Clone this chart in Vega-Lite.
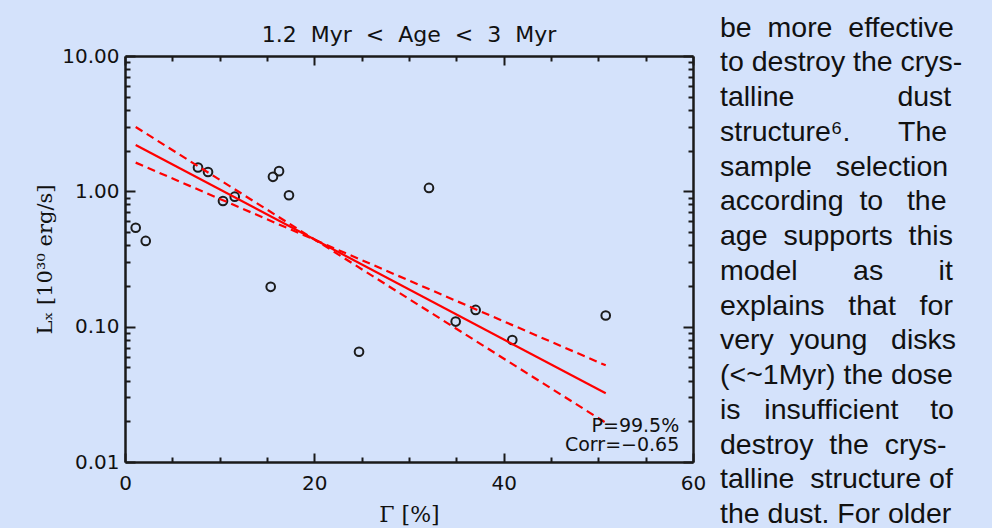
{
  "$schema": "https://vega.github.io/schema/vega-lite/v6.json",
  "background": "#d4e2fb",
  "padding": {"left": 34, "top": 13, "right": 22, "bottom": 0},
  "config": {"view": {"stroke": null}, "font": "DejaVu Sans"},
  "bounds": "flush",
  "spacing": 27,
  "datasets": {
    "points": [
      {"gamma": 1.13, "lx": 0.538}, {"gamma": 2.19, "lx": 0.43}, {"gamma": 7.71, "lx": 1.5},
      {"gamma": 8.77, "lx": 1.39}, {"gamma": 10.35, "lx": 0.848}, {"gamma": 11.59, "lx": 0.913},
      {"gamma": 15.63, "lx": 1.28}, {"gamma": 16.27, "lx": 1.41}, {"gamma": 17.32, "lx": 0.935},
      {"gamma": 15.39, "lx": 0.197}, {"gamma": 32.11, "lx": 1.06}, {"gamma": 24.72, "lx": 0.0653},
      {"gamma": 34.93, "lx": 0.109}, {"gamma": 37.04, "lx": 0.133}, {"gamma": 40.91, "lx": 0.0797},
      {"gamma": 50.78, "lx": 0.121}
    ],
    "fit": [
      {"gamma": 1.13, "lx": 2.2}, {"gamma": 50.78, "lx": 0.0322}
    ],
    "band": [
      {"series": "steep", "gamma": 1.13, "lx": 2.99}, {"series": "steep", "gamma": 50.78, "lx": 0.0195},
      {"series": "shallow", "gamma": 1.13, "lx": 1.63}, {"series": "shallow", "gamma": 50.78, "lx": 0.0518}
    ],
    "notes": [
      {"gamma": 58.55, "lx": 0.01849, "label": "P=99.5%"},
      {"gamma": 58.55, "lx": 0.01336, "label": "Corr=−0.65"}
    ],
    "column": [
      {"col": 0, "line": 1, "text": "be\u00a0\u00a0more\u00a0\u00a0effective"},
      {"col": 0, "line": 2, "text": "to destroy the crys-"},
      {"col": 0, "line": 3, "text": "talline\u00a0\u00a0\u00a0\u00a0\u00a0\u00a0\u00a0\u00a0\u00a0\u00a0\u00a0\u00a0\u00a0dust"},
      {"col": 0, "line": 4, "text": "structure⁶.\u00a0\u00a0\u00a0\u00a0\u00a0\u00a0The"},
      {"col": 0, "line": 5, "text": "sample\u00a0\u00a0\u00a0selection"},
      {"col": 0, "line": 6, "text": "according\u00a0\u00a0to\u00a0\u00a0\u00a0the"},
      {"col": 0, "line": 7, "text": "age\u00a0\u00a0supports\u00a0\u00a0this"},
      {"col": 0, "line": 8, "text": "model\u00a0\u00a0\u00a0\u00a0\u00a0\u00a0\u00a0as\u00a0\u00a0\u00a0\u00a0\u00a0\u00a0\u00a0it"},
      {"col": 0, "line": 9, "text": "explains\u00a0\u00a0\u00a0that\u00a0\u00a0\u00a0for"},
      {"col": 0, "line": 10, "text": "very\u00a0\u00a0young\u00a0\u00a0\u00a0disks"},
      {"col": 0, "line": 11, "text": "(<~1Myr) the dose"},
      {"col": 0, "line": 12, "text": "is\u00a0\u00a0\u00a0insufficient\u00a0\u00a0\u00a0\u00a0to"},
      {"col": 0, "line": 13, "text": "destroy\u00a0\u00a0the\u00a0\u00a0crys-"},
      {"col": 0, "line": 14, "text": "talline\u00a0\u00a0structure of"},
      {"col": 0, "line": 15, "text": "the dust. For older"}
    ]
  },
  "hconcat": [
    {
      "width": 568,
      "height": 406,
      "title": {
        "text": "1.2\u00a0\u00a0Myr\u00a0\u00a0<\u00a0\u00a0Age\u00a0\u00a0<\u00a0\u00a03\u00a0\u00a0Myr",
        "font": "DejaVu Sans", "fontSize": 22, "fontWeight": "normal", "color": "#111",
        "anchor": "middle", "frame": "group", "offset": -1
      },
      "layer": [
        {
          "data": {"name": "points"},
          "mark": {"type": "point", "shape": "circle", "filled": false, "size": 75, "strokeWidth": 2, "color": "#1c1c1c", "opacity": 1},
          "encoding": {
            "x": {
              "field": "gamma", "type": "quantitative",
              "scale": {"domain": [0, 60], "nice": false, "zero": false},
              "axis": {
                "orient": "bottom",
                "values": [0, 5, 10, 15, 20, 25, 30, 35, 40, 45, 50, 55, 60],
                "tickSize": {"condition": {"test": "indexof([0,20,40,60], datum.value) >= 0", "value": -9}, "value": -5},
                "labelExpr": "indexof([0,20,40,60], datum.value) >= 0 ? format(datum.value, 'd') : ''",
                "labelFont": "DejaVu Sans", "labelFontSize": 20, "labelColor": "#111",
                "labelPadding": 20, "labelOverlap": false, "labelFlush": false,
                "domainColor": "#1a1a1a", "domainWidth": 2.5, "tickColor": "#1a1a1a", "tickWidth": 2,
                "title": "Γ [%]", "titleFont": "DejaVu Serif", "titleFontSize": 22, "titleFontWeight": "normal",
                "titleColor": "#111", "titlePadding": 7, "grid": false
              }
            },
            "y": {
              "field": "lx", "type": "quantitative",
              "scale": {"type": "log", "domain": [0.01, 10], "nice": false},
              "axis": {
                "orient": "left",
                "values": [0.01, 0.02, 0.03, 0.04, 0.05, 0.06, 0.07, 0.08, 0.09, 0.1, 0.2, 0.3, 0.4, 0.5, 0.6, 0.7, 0.8, 0.9, 1, 2, 3, 4, 5, 6, 7, 8, 9, 10],
                "tickSize": {"condition": {"test": "indexof([0.01,0.1,1,10], datum.value) >= 0", "value": -10}, "value": -5},
                "labelExpr": "indexof([0.01,0.1,1,10], datum.value) >= 0 ? format(datum.value, '.2f') : ''",
                "labelFont": "DejaVu Sans", "labelFontSize": 20, "labelColor": "#111",
                "labelPadding": 16, "labelOverlap": false, "labelFlush": false,
                "domainColor": "#1a1a1a", "domainWidth": 2.5, "tickColor": "#1a1a1a", "tickWidth": 2,
                "title": "Lₓ [10³⁰ erg/s]", "titleFont": "DejaVu Serif", "titleFontSize": 21, "titleFontWeight": "normal",
                "titleColor": "#111", "titlePadding": 6, "grid": false
              }
            }
          }
        },
        {
          "data": {"name": "fit"},
          "mark": {"type": "line", "color": "#ff0000", "strokeWidth": 2.2},
          "encoding": {
            "x": {
              "field": "gamma", "type": "quantitative",
              "axis": {
                "orient": "top",
                "values": [0, 5, 10, 15, 20, 25, 30, 35, 40, 45, 50, 55, 60],
                "tickSize": {"condition": {"test": "indexof([0,20,40,60], datum.value) >= 0", "value": -9}, "value": -5},
                "labels": false, "title": null,
                "domainColor": "#1a1a1a", "domainWidth": 2.5, "tickColor": "#1a1a1a", "tickWidth": 2, "grid": false
              }
            },
            "y": {
              "field": "lx", "type": "quantitative",
              "axis": {
                "orient": "right",
                "values": [0.01, 0.02, 0.03, 0.04, 0.05, 0.06, 0.07, 0.08, 0.09, 0.1, 0.2, 0.3, 0.4, 0.5, 0.6, 0.7, 0.8, 0.9, 1, 2, 3, 4, 5, 6, 7, 8, 9, 10],
                "tickSize": {"condition": {"test": "indexof([0.01,0.1,1,10], datum.value) >= 0", "value": -10}, "value": -5},
                "labels": false, "title": null,
                "domainColor": "#1a1a1a", "domainWidth": 2.5, "tickColor": "#1a1a1a", "tickWidth": 2, "grid": false
              }
            }
          }
        },
        {
          "data": {"name": "band"},
          "mark": {"type": "line", "color": "#ff0000", "strokeWidth": 2.2, "strokeDash": [8, 5]},
          "encoding": {
            "x": {"field": "gamma", "type": "quantitative", "axis": null},
            "y": {"field": "lx", "type": "quantitative", "axis": null},
            "detail": {"field": "series"}
          }
        },
        {
          "data": {"name": "notes"},
          "mark": {"type": "text", "align": "right", "baseline": "middle", "font": "DejaVu Sans", "fontSize": 19, "color": "#111"},
          "encoding": {
            "x": {"field": "gamma", "type": "quantitative", "axis": null},
            "y": {"field": "lx", "type": "quantitative", "axis": null},
            "text": {"field": "label"}
          }
        }
      ],
      "resolve": {"axis": {"x": "independent", "y": "independent"}}
    },
    {
      "width": 250,
      "height": 406,
      "data": {"name": "column"},
      "mark": {"type": "text", "align": "left", "baseline": "middle", "font": "Liberation Sans", "fontSize": 28.5, "color": "#111"},
      "encoding": {
        "x": {"field": "col", "type": "quantitative", "scale": {"domain": [0, 1]}, "axis": null},
        "y": {"field": "line", "type": "quantitative", "scale": {"domain": [1.8146, 13.502], "reverse": true, "nice": false, "zero": false}, "axis": null},
        "text": {"field": "text"}
      }
    }
  ]
}
